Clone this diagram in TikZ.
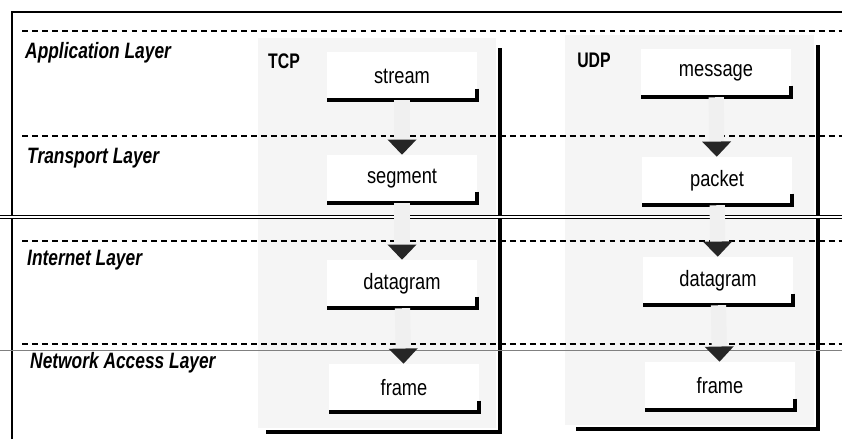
\documentclass[tikz,border=0pt]{standalone}
\usepackage{fontspec}
\newfontfamily\condsf[FakeStretch=0.78]{Liberation Sans}
\newfontfamily\protosf[FakeStretch=0.75]{Liberation Sans}
\newfontfamily\boxsf[FakeStretch=0.82]{Liberation Sans}
\usetikzlibrary{arrows.meta}

\tikzset{
	layer/.style={anchor=base west, inner sep=0pt, font=\condsf\bfseries\itshape\fontsize{19}{22}\selectfont},
	proto/.style={inner sep=0pt, font=\protosf\bfseries\fontsize{18}{21}\selectfont},
	unit/.style={fill=white, minimum width=4.5cm, minimum height=1.44cm, inner sep=0pt, font=\boxsf\fontsize{19}{22}\selectfont},
	shadow/.style={line width=3pt},
	flow/.style={gray!12, line width=13pt, -{Triangle[width=24pt,length=13pt,color=black!85]}},
	sep/.style={line width=1.1pt, dash pattern=on 5pt off 3.5pt},
}

\begin{document}
\begin{tikzpicture}[x=0.03cm, y=-0.03cm]
\useasboundingbox (0,0) rectangle (842,439);
% column panels
\fill[gray!8] (258,38) rectangle (496,428);
\draw[shadow] (500,48) -- (500,432) -- (266,432);
\fill[gray!8] (565,35) rectangle (814,425);
\draw[shadow] (818,45) -- (818,429) -- (576,429);
% frame
\draw[line width=1.6pt] (12,439) -- (12,12) -- (842,12);
\draw[double, double distance=1.5pt, line width=0.6pt] (0,217) -- (842,217);
\draw[gray, line width=0.6pt] (0,350) -- (842,350);
\foreach \y in {31,136,241,344}
{
	\draw[sep] (22,\y) -- (842,\y);
}
% layer names
\node[layer] (app) at (25,58) {Application Layer};
\node[layer] (trans) at (27,163) {Transport Layer};
\node[layer] (inet) at (27,265) {Internet Layer};
\node[layer] (netacc) at (30,368) {Network Access Layer};
% TCP column
\node[proto] (tcp) at (284,61) {TCP};
\node[unit] (stream) at (402,76) {stream};
\node[unit] (segment) at (402,179) {segment};
\node[unit] (tdgram) at (402,284) {datagram};
\node[unit] (tframe) at (404,388) {frame};
% UDP column
\node[proto] (udp) at (594,60) {UDP};
\node[unit] (message) at (716,73) {message};
\node[unit] (packet) at (717,181) {packet};
\node[unit] (udgram) at (718,281) {datagram};
\node[unit] (uframe) at (720,386) {frame};
% box shadows
\foreach \b in {stream,segment,tdgram,tframe,message,packet,udgram,uframe}
{
	\draw[shadow] ([yshift=10pt]\b.south east) -- (\b.south east) -- (\b.south west);
}
% arrows
\draw[flow] (stream) -- (segment);
\draw[flow] (segment) -- (tdgram);
\draw[flow] (tdgram) -- (tframe);
\draw[flow] (message) -- (packet);
\draw[flow] (packet) -- (udgram);
\draw[flow] (udgram) -- (uframe);
\end{tikzpicture}
\end{document}
